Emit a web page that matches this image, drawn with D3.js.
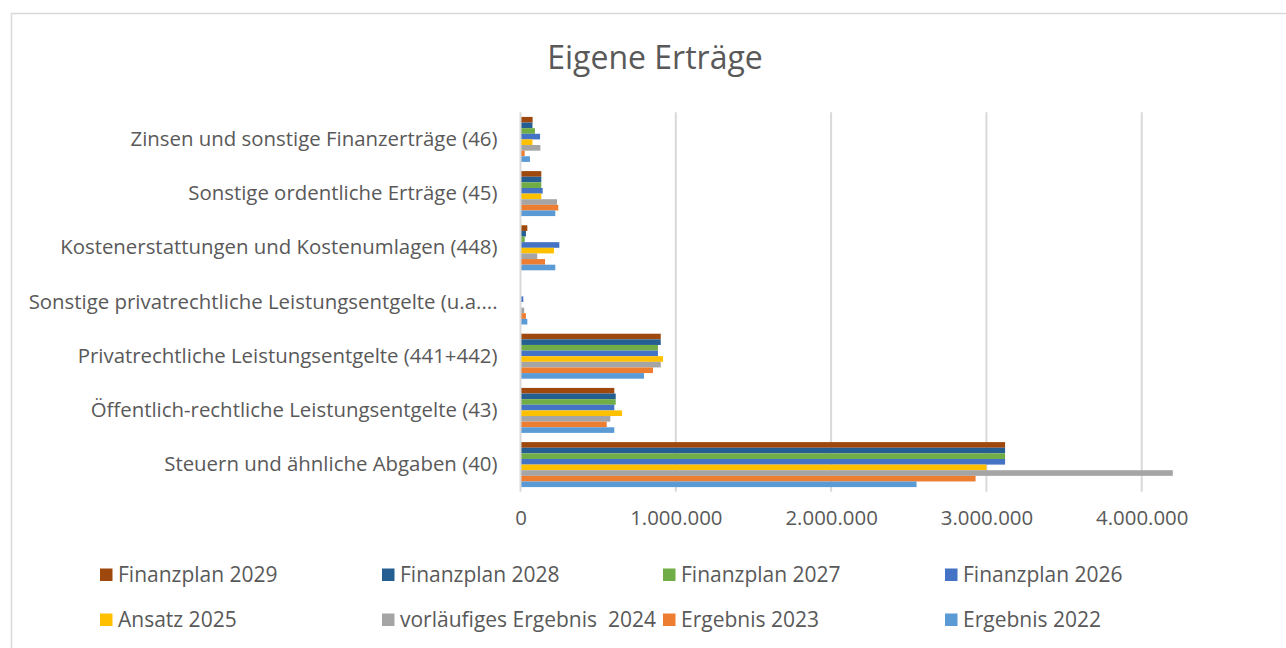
<!DOCTYPE html>
<html>
<head>
<meta charset="utf-8">
<script src="https://cdn.jsdelivr.net/npm/d3@7"></script>
<style>
  body { margin: 0; background: #fff; }
  svg text { font-family: 'Open Sans', 'Noto Sans', sans-serif; fill: #595959; }
</style>
</head>
<body>
<div id="chart"></div>
<script>
// categories, top to bottom
const categories = [
  'Zinsen und sonstige Finanzerträge (46)',
  'Sonstige ordentliche Erträge (45)',
  'Kostenerstattungen und Kostenumlagen (448)',
  'Sonstige privatrechtliche Leistungsentgelte (u.a....',
  'Privatrechtliche Leistungsentgelte (441+442)',
  'Öffentlich-rechtliche Leistungsentgelte (43)',
  'Steuern und ähnliche Abgaben (40)'
]

// series, in bar order within a group (top to bottom) and legend order
const seriesNames = [
  'Finanzplan 2029', 'Finanzplan 2028', 'Finanzplan 2027', 'Finanzplan 2026',
  'Ansatz 2025', 'vorläufiges Ergebnis  2024', 'Ergebnis 2023', 'Ergebnis 2022'
]
const seriesColors = [
  '#9E480E', '#255E91', '#70AD47', '#4472C4',
  '#FFC000', '#A5A5A5', '#ED7D31', '#5B9BD5'
]

// values per series, same order as categories
const finanzplan2029 = [78000, 134000, 44000, 0, 903000, 604000, 3120000]
const finanzplan2028 = [77000, 134000, 35000, 0, 903000, 613000, 3120000]
const finanzplan2027 = [93000, 134000, 27000, 0, 885000, 613000, 3120000]
const finanzplan2026 = [126000, 143000, 250000, 18000, 885000, 604000, 3120000]
const ansatz2025 = [77000, 134000, 216000, 0, 918000, 654000, 3000000]
const vorlErgebnis2024 = [128000, 235000, 108000, 24000, 903000, 578000, 4200000]
const ergebnis2023 = [27000, 243000, 158000, 35000, 853000, 555000, 2930000]
const ergebnis2022 = [61000, 224000, 224000, 44000, 795000, 604000, 2550000]

const seriesValues = [
  finanzplan2029, finanzplan2028, finanzplan2027, finanzplan2026,
  ansatz2025, vorlErgebnis2024, ergebnis2023, ergebnis2022
]

const xTicks = [0, 1000000, 2000000, 3000000, 4000000]

const W = 1286
const H = 648
const plot = {left: 520.5, right: 1219.4, top: 112.3, bottom: 491.7}
const fontSize = '20.4px'

const svg = d3.select('#chart')
  .append('svg')
  .attr('width', W)
  .attr('height', H)

// chart frame
svg.append('rect')
  .attr('x', 11.5)
  .attr('y', 13.5)
  .attr('width', W + 20)
  .attr('height', H + 20)
  .attr('fill', '#fff')
  .attr('stroke', '#d9d9d9')
  .attr('stroke-width', 1.5)

// title
svg.append('text')
  .attr('x', 655)
  .attr('y', 69)
  .attr('text-anchor', 'middle')
  .style('font-size', '32px')
  .text('Eigene Erträge')

// scales
const xs = d3.scaleLinear()
  .domain([0, 4500000])
  .range([plot.left, plot.right])
const ys = d3.scaleBand()
  .domain(categories)
  .range([plot.top, plot.bottom])
  .paddingInner(0.17)
  .paddingOuter(0.085)
const inner = d3.scaleBand()
  .domain(seriesNames)
  .range([0, ys.bandwidth()])

// gridlines
svg.append('g')
  .selectAll('line')
  .data(xTicks.slice(1))
  .enter()
  .append('line')
  .attr('x1', (d) => xs(d))
  .attr('x2', (d) => xs(d))
  .attr('y1', plot.top)
  .attr('y2', plot.bottom)
  .attr('stroke', '#d9d9d9')
  .attr('stroke-width', 2)

// bars
const groups = svg.append('g')
  .selectAll('g')
  .data(seriesNames)
  .enter()
  .append('g')
  .attr('fill', (d, i) => seriesColors[i])

groups.selectAll('rect')
  .data((s, si) => categories.map((c, ci) => ({s: s, c: c, v: seriesValues[si][ci]})))
  .enter()
  .append('rect')
  .attr('x', xs(0))
  .attr('y', (d) => ys(d.c) + inner(d.s))
  .attr('width', (d) => xs(d.v) - xs(0))
  .attr('height', inner.bandwidth())

// vertical category axis line
svg.append('line')
  .attr('x1', xs(0))
  .attr('x2', xs(0))
  .attr('y1', plot.top)
  .attr('y2', plot.bottom)
  .attr('stroke', '#d9d9d9')
  .attr('stroke-width', 2)

// category labels
const yAxis = svg.append('g')
  .attr('transform', `translate(${plot.left - 9},0)`)
  .call(d3.axisLeft(ys).tickSize(0).tickPadding(14))
yAxis.select('.domain').remove()
yAxis.selectAll('text')
  .attr('fill', '#595959')
  .style('font-size', fontSize)
  .style('font-family', "'Open Sans', 'Noto Sans', sans-serif")

// value axis
const xAxis = svg.append('g')
  .attr('transform', `translate(0,${plot.bottom})`)
  .call(d3.axisBottom(xs)
    .tickValues(xTicks)
    .tickSize(0)
    .tickPadding(19)
    .tickFormat((d) => d3.format(',')(d).replace(/,/g, '.')))
xAxis.select('.domain').remove()
xAxis.selectAll('text')
  .attr('fill', '#595959')
  .style('font-size', fontSize)
  .style('font-family', "'Open Sans', 'Noto Sans', sans-serif")

// legend
const legendX = [100, 382, 663, 945]
const legendY = [575, 620]
const legend = svg.append('g')
  .selectAll('g')
  .data(seriesNames)
  .enter()
  .append('g')
  .attr('transform', (d, i) => `translate(${legendX[i % 4]},${legendY[Math.floor(i / 4)]})`)
legend.append('rect')
  .attr('x', 0)
  .attr('y', -6.5)
  .attr('width', 12.5)
  .attr('height', 12.5)
  .attr('fill', (d, i) => seriesColors[i])
legend.append('text')
  .attr('x', 18)
  .attr('y', 0)
  .attr('dy', '0.35em')
  .style('font-size', '21px')
  .style('white-space', 'pre')
  .text((d) => d)
</script>
</body>
</html>
